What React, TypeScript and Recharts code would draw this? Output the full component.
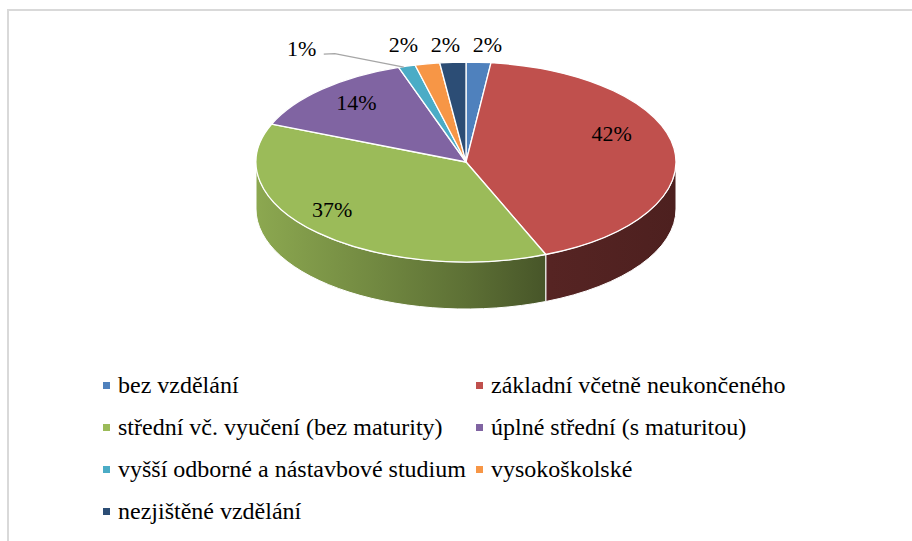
import React from 'react';
import { PieChart, Pie, Cell, Legend } from 'recharts';

const CATEGORIES = [
  'bez vzdělání',
  'základní včetně neukončeného',
  'střední vč. vyučení (bez maturity)',
  'úplné střední (s maturitou)',
  'vyšší odborné a nástavbové studium',
  'vysokoškolské',
  'nezjištěné vzdělání',
];
const SHARES = [1.9, 41.9, 37.4, 13.6, 1.3, 1.9, 2.0];
const COLORS = ['#4f81bd', '#c0504d', '#9bbb59', '#8064a2', '#4bacc6', '#f79646', '#2c4d75'];

const data = CATEGORIES.map((name, i) => ({ name, value: SHARES[i] }));

const W = 912;
const H = 541;
const FONT = '"Liberation Serif", "Times New Roman", Times, serif';
const LABEL_FS = 22;
const TILT = 100 / 210;
const DEPTH_RATIO = 47 / 210;
const INSIDE_FRACTION = 0.7;
const RAD = Math.PI / 180;
const LABEL_OFFSETS: [number, number][] = [
  [9, -18],
  [0, -19],
  [-30, -2],
  [-9, -8],
  [-105, -17],
  [-24, -19.5],
  [-7.5, -18],
];
const SHADE_STOPS: [number, number][] = [
  [0, 0.9],
  [0.3, 0.72],
  [0.5, 0.6],
  [0.7, 0.45],
  [1, 0.4],
];

function shade(hex: string, f: number) {
  const n = parseInt(hex.slice(1), 16);
  const r = Math.round(((n >> 16) & 255) * f);
  const g = Math.round(((n >> 8) & 255) * f);
  const b = Math.round((n & 255) * f);
  return `rgb(${r},${g},${b})`;
}

function renderSlice(props: any) {
  const { cx, cy, outerRadius, startAngle, endAngle, percent, index } = props;
  const rx = outerRadius;
  const ry = rx * TILT;
  const depth = rx * DEPTH_RATIO;
  const color = COLORS[index];
  const p = (a: number, dy = 0): [number, number] => [
    cx + rx * Math.cos(a * RAD),
    cy - ry * Math.sin(a * RAD) + dy,
  ];
  const [x1, y1] = p(startAngle);
  const [x2, y2] = p(endAngle);
  const large = Math.abs(startAngle - endAngle) > 180 ? 1 : 0;
  const sweep = startAngle > endAngle ? 1 : 0;
  const topPath = `M${cx},${cy} L${x1},${y1} A${rx},${ry} 0 ${large} ${sweep} ${x2},${y2} Z`;

  const hi = Math.max(startAngle, endAngle);
  const lo = Math.min(startAngle, endAngle);
  const sides: string[] = [];
  for (const k of [-1, 0, 1]) {
    const fLo = -180 + 360 * k;
    const fHi = 360 * k;
    const a = Math.max(lo, fLo);
    const b = Math.min(hi, fHi);
    if (b > a + 1e-6) {
      const [bx, by] = p(b);
      const [ax, ay] = p(a);
      const [axd, ayd] = p(a, depth);
      const [bxd, byd] = p(b, depth);
      sides.push(
        `M${bx},${by} A${rx},${ry} 0 0 1 ${ax},${ay} L${axd},${ayd} A${rx},${ry} 0 0 0 ${bxd},${byd} Z`
      );
    }
  }

  const mid = (startAngle + endAngle) / 2;
  const inside = percent >= 0.05;
  const f = inside ? INSIDE_FRACTION : 1;
  const [ax0, ay0] = [cx + f * rx * Math.cos(mid * RAD), cy - f * ry * Math.sin(mid * RAD)];
  const [dx, dy] = LABEL_OFFSETS[index] || [0, 0];
  const tx = ax0 + dx;
  const ty = ay0 + dy;
  const leader = Math.abs(dx) > 50;
  const gid = `sideGrad${index}`;

  return (
    <g key={`slice-${index}`}>
      <defs>
        <linearGradient id={gid} gradientUnits="userSpaceOnUse" x1={cx - rx} y1={0} x2={cx + rx} y2={0}>
          {SHADE_STOPS.map(([o, s]) => (
            <stop key={o} offset={o} stopColor={shade(color, s)} />
          ))}
        </linearGradient>
      </defs>
      {sides.map((d, j) => (
        <path key={j} d={d} fill={`url(#${gid})`} stroke="#ffffff" strokeWidth={1} strokeLinejoin="round" />
      ))}
      <path d={topPath} fill={color} stroke="#ffffff" strokeWidth={1.3} strokeLinejoin="round" />
      {leader && (
        <polyline
          points={`${tx + 22},${ty + 5} ${tx + 33},${ty + 4.5} ${ax0 - 3},${ay0 + 1}`}
          fill="none"
          stroke="#a6a6a6"
          strokeWidth={1.3}
        />
      )}
      <text
        x={tx}
        y={ty + LABEL_FS * 0.338}
        textAnchor="middle"
        fontFamily={FONT}
        fontSize={LABEL_FS}
        fill="#000000"
      >
        {`${Math.round(percent * 100)}%`}
      </text>
    </g>
  );
}

function renderLegend() {
  return (
    <div
      style={{
        display: 'grid',
        gridTemplateColumns: '373px 373px',
        paddingLeft: 103,
        fontFamily: FONT,
        fontSize: 24,
        lineHeight: '42px',
        color: '#000000',
      }}
    >
      {CATEGORIES.map((name, i) => (
        <div key={name} style={{ display: 'flex', alignItems: 'center', whiteSpace: 'nowrap' }}>
          <span
            style={{
              display: 'inline-block',
              width: 7,
              height: 7,
              background: COLORS[i],
              marginRight: 8,
              flex: '0 0 auto',
            }}
          />
          <span>{name}</span>
        </div>
      ))}
    </div>
  );
}

export default function App() {
  return (
    <div
      style={{
        position: 'absolute',
        left: 0,
        top: 0,
        width: W,
        height: H,
        overflow: 'hidden',
        background: '#ffffff',
      }}
    >
      <div
        style={{
          position: 'absolute',
          left: 7,
          top: 9,
          width: 940,
          height: 580,
          border: '2px solid #d9d9d9',
        }}
      />
      <div style={{ position: 'absolute', left: 0, top: 0 }}>
        <PieChart width={W} height={H} margin={{ top: 0, right: 0, bottom: 0, left: 0 }}>
          <Pie
            data={data}
            dataKey="value"
            nameKey="name"
            cx={466}
            cy={162}
            outerRadius={210}
            startAngle={90}
            endAngle={-270}
            labelLine={false}
            label={renderSlice}
            isAnimationActive={false}
            stroke="none"
          >
            {data.map((d, i) => (
              <Cell key={d.name} fill={COLORS[i]} fillOpacity={0} stroke="none" />
            ))}
          </Pie>
          <Legend
            verticalAlign="bottom"
            content={renderLegend}
            wrapperStyle={{ top: 364, bottom: 'auto', left: 0, width: W }}
          />
        </PieChart>
      </div>
    </div>
  );
}
